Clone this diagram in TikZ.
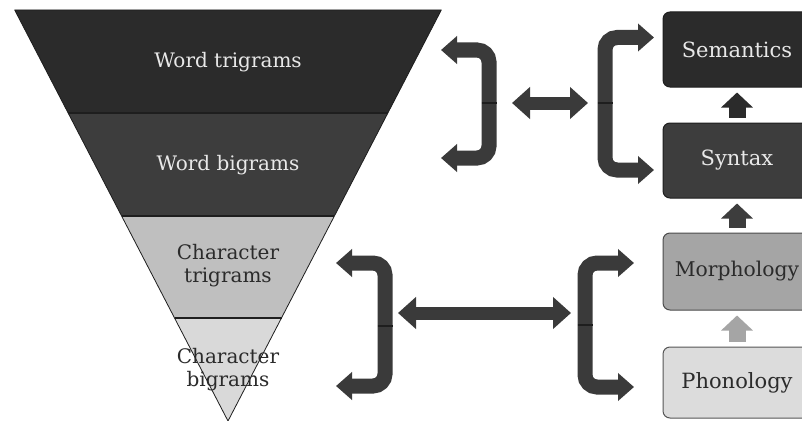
\documentclass[tikz,border=0pt]{standalone}
\usepackage{fontspec}
\setmainfont{DejaVu Serif}
\usetikzlibrary{arrows.meta}
\definecolor{bandA}{HTML}{2B2B2B}
\definecolor{bandB}{HTML}{3D3D3D}
\definecolor{bandC}{HTML}{BFBFBF}
\definecolor{bandD}{HTML}{D9D9D9}
\definecolor{morphfill}{HTML}{A5A5A5}
\definecolor{phonofill}{HTML}{DCDCDC}
\definecolor{edgecol}{HTML}{1E1E1E}
\definecolor{arrowcol}{HTML}{3A3A3A}
\definecolor{lighttext}{HTML}{E8E8E8}
\definecolor{darktext}{HTML}{2B2B2B}
\begin{document}
\begin{tikzpicture}[x=1pt,y=-1pt,
  lbl/.style={font=\fontsize{20}{23}\selectfont, align=center, inner sep=0pt},
  box/.style={draw=edgecol, line width=1pt, rounded corners=7pt,
    minimum width=148pt, inner sep=0pt,
    font=\fontsize{21}{24}\selectfont},
  bentarrow/.style={draw=arrowcol, line width=15pt, rounded corners=12pt,
    -{Triangle[width=27pt,length=16pt]}},
  twoway/.style={draw=arrowcol, line width=13pt,
    {Triangle[width=31pt,length=18pt]}-{Triangle[width=31pt,length=18pt]}},
  upstep/.style={line width=17pt, -{Triangle[width=31pt,length=15pt]}},
  seam/.style={draw=edgecol, line width=1.2pt}]
\useasboundingbox (0,0) rectangle (802,420);
\fill[white] (0,0) rectangle (802,420);
\clip (0,0) rectangle (802,420);

% funnel bands
\fill[bandA] (14.7,10) -- (441.3,10) -- (387.9,113) -- (68.1,113) -- cycle;
\fill[bandB] (68.1,113) -- (387.9,113) -- (334.4,216) -- (121.6,216) -- cycle;
\fill[bandC] (121.6,216) -- (334.4,216) -- (281.5,318) -- (174.5,318) -- cycle;
\fill[bandD] (174.5,318) -- (281.5,318) -- (228,421) -- cycle;
\draw[edgecol, line width=0.8pt, line join=round]
  (14.7,10) -- (441.3,10) -- (228,421) -- cycle;
\draw[edgecol, line width=1.6pt] (68.1,113) -- (387.9,113);
\draw[edgecol, line width=1.6pt] (121.6,216) -- (334.4,216);
\draw[edgecol, line width=1.2pt] (174.5,318) -- (281.5,318);

\node[lbl, text=lighttext] (wtri) at (228,62) {Word trigrams};
\node[lbl, text=lighttext] (wbi) at (228,165) {Word bigrams};
\node[lbl, text=darktext] (ctri) at (228,266) {Character\\trigrams};
\node[lbl, text=darktext] (cbi) at (228,370) {Character\\bigrams};

% linguistic levels
\node[box, fill=bandA, text=lighttext, minimum height=75pt] (sem) at (737,49.5) {Semantics};
\node[box, fill=bandB, text=lighttext, minimum height=75pt] (syn) at (737,160.5) {Syntax};
\node[box, fill=morphfill, draw=edgecol!80, text=darktext, minimum height=77pt,
  font=\fontsize{20.3}{24}\selectfont] (mor) at (737,271.5) {Morphology};
\node[box, fill=phonofill, draw=edgecol!75, text=darktext, minimum height=71pt] (pho) at (737,382.5) {Phonology};

\draw[upstep, bandA] ([yshift=5pt]syn.north) -- ([yshift=-5pt]sem.south);
\draw[upstep, bandB] ([yshift=5pt]mor.north) -- ([yshift=-5pt]syn.south);
\draw[upstep, morphfill] ([yshift=5pt]pho.north) -- ([yshift=-5pt]mor.south);

% upper bracket pair
\coordinate (ulm) at (489,103);
\coordinate (ult) at (441,50);
\coordinate (ulb) at (441,158);
\coordinate (urm) at (605,103);
\coordinate (urt) at (654,37.5);
\coordinate (urb) at (654,170);
\coordinate (uha) at (512,103);
\coordinate (uhb) at (588,103);
\draw[bentarrow] (ulm) |- (ult);
\draw[bentarrow] (ulm) |- (ulb);
\draw[bentarrow] (urm) |- (urt);
\draw[bentarrow] (urm) |- (urb);
\draw[twoway] (uha) -- (uhb);
\draw[seam] ([xshift=-7.5pt]ulm) -- ([xshift=7.5pt]ulm);
\draw[seam] ([xshift=-7.5pt]urm) -- ([xshift=7.5pt]urm);

% lower bracket pair
\coordinate (llm) at (385,326);
\coordinate (llt) at (336,263);
\coordinate (llb) at (336,386);
\coordinate (lrm) at (585,325);
\coordinate (lrt) at (634,263);
\coordinate (lrb) at (634,387);
\coordinate (lha) at (398,313);
\coordinate (lhb) at (571,313);
\draw[bentarrow] (llm) |- (llt);
\draw[bentarrow] (llm) |- (llb);
\draw[bentarrow] (lrm) |- (lrt);
\draw[bentarrow] (lrm) |- (lrb);
\draw[twoway] (lha) -- (lhb);
\draw[seam] ([xshift=-7.5pt]llm) -- ([xshift=7.5pt]llm);
\draw[seam] ([xshift=-7.5pt]lrm) -- ([xshift=7.5pt]lrm);
\end{tikzpicture}
\end{document}
